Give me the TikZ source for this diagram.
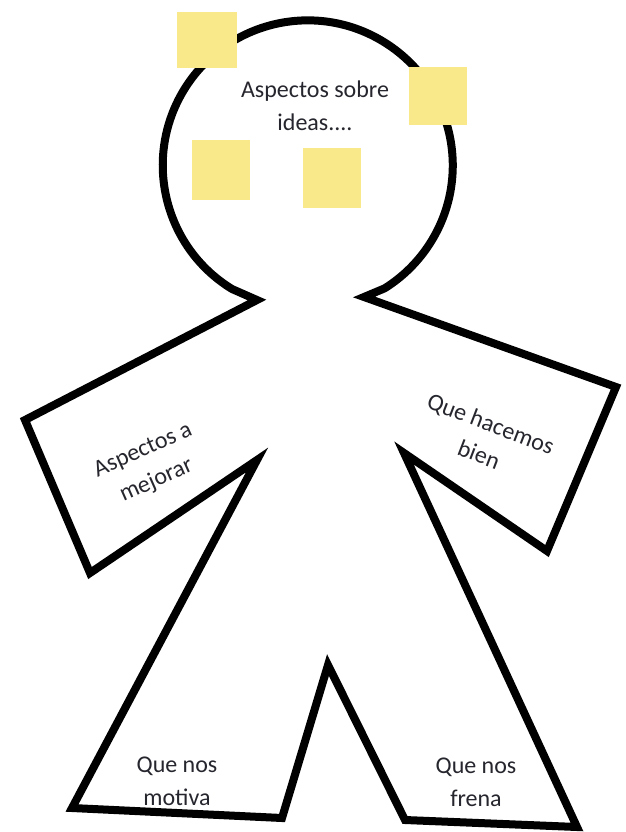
\documentclass[tikz,border=0pt]{standalone}
\usepackage{fontspec}
\setmainfont{Carlito}
\definecolor{note}{HTML}{F9E98B}
\definecolor{txt}{HTML}{26262E}
\begin{document}
\begin{tikzpicture}[x=1pt,y=-1pt,
  outline/.style={line width=8pt,line join=miter,miter limit=20,black},
  sticky/.style={fill=note,draw=none},
  lbl/.style={text=txt,font=\fontsize{24}{33}\selectfont,align=center,inner sep=0pt}]
\useasboundingbox[fill=white] (0,0) rectangle (625,832);
% body outline
\draw[outline] (257,300) -- (232,289) arc[start angle=121.5,end angle=418,radius=145]
  -- (364,297) -- (616,387) -- (547,551) -- (404,453) -- (577,827) -- (405,820)
  -- (328,665) -- (282,818) -- (72,808) -- (257,460) -- (90,573) -- (25,420) -- cycle;
% sticky notes
\fill[sticky] (177,12) rectangle (237,68);
\fill[sticky] (409,67) rectangle (467,125);
\fill[sticky] (192,140) rectangle (250,200);
\fill[sticky] (303,148) rectangle (361,208);
% labels
\node[lbl] (head) at (315,106) {Aspectos sobre\\ideas....};
\node[lbl,rotate=24] (left) at (150,466) {Aspectos a\\mejorar};
\node[lbl,rotate=-21] (right) at (485,439) {Que hacemos\\bien};
\node[lbl] (motiva) at (177,781) {Que nos\\motiva};
\node[lbl] (frena) at (476,782) {Que nos\\frena};
\end{tikzpicture}
\end{document}
